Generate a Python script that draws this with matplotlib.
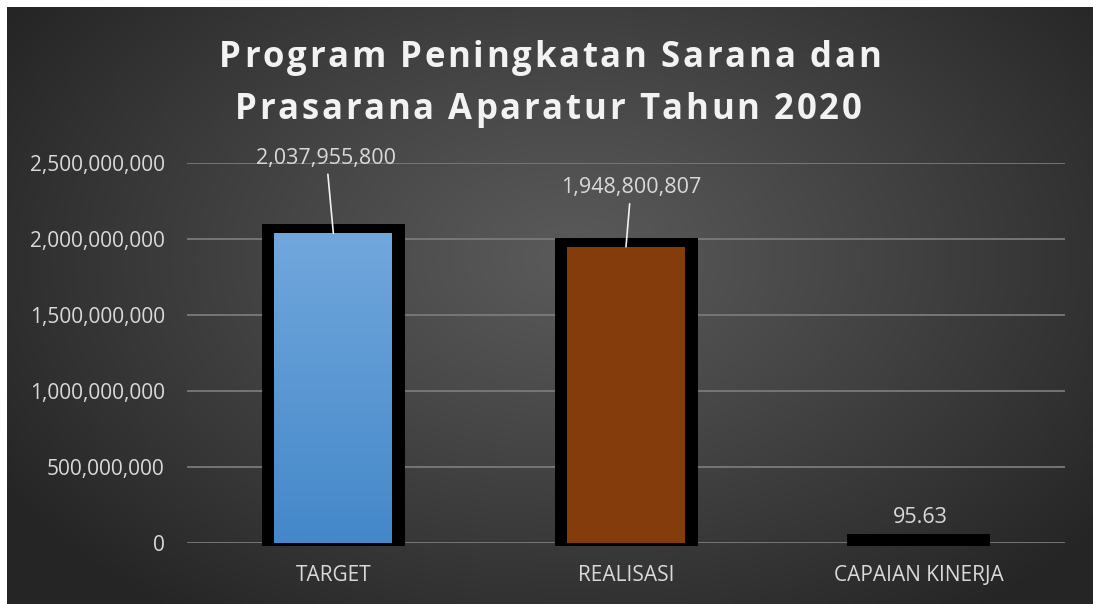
import numpy as np
import matplotlib.pyplot as plt
from matplotlib.ticker import FuncFormatter
from matplotlib.font_manager import FontProperties, findfont, get_font

# Data
kategori = ['TARGET', 'REALISASI', 'CAPAIAN KINERJA']
nilai = [2037955800, 1948800807, 95.63]
label_nilai = ['2,037,955,800', '1,948,800,807', '95.63']
y_ticks = [0, 500_000_000, 1_000_000_000, 1_500_000_000, 2_000_000_000, 2_500_000_000]
judul = ['Program Peningkatan Sarana dan', 'Prasarana Aparatur Tahun 2020']

W, H = 1093, 604
fig = plt.figure(figsize=(W / 100, H / 100), dpi=100)
fig.patch.set_facecolor('white')

# background radial gradient (chart area starts 7px from top/left)
bg = fig.add_axes([7 / W, 0, 1 - 7 / W, 1 - 7 / H], zorder=-5)
gx, gy = np.meshgrid(np.linspace(0, 1, 400), np.linspace(0, 1, 240))
r = np.sqrt(((gx - 0.52) / 0.62) ** 2 + ((gy - 0.42) / 0.75) ** 2)
r = np.clip(r, 0, 1) ** 1.1
c0, c1 = np.array([0x5a, 0x5a, 0x5a]) / 255, np.array([0x25, 0x25, 0x25]) / 255
img = c0[None, None, :] * (1 - r[..., None]) + c1[None, None, :] * r[..., None]
bg.imshow(img, aspect='auto', extent=[0, 1, 1, 0])
bg.axis('off')

ax = fig.add_axes([187 / W, (H - 543) / H, 878 / W, 380 / H])
ax.set_facecolor('none')
for s in ax.spines.values():
    s.set_visible(False)

ax.set_yticks(y_ticks)
ax.yaxis.set_major_formatter(FuncFormatter(lambda v, p: f'{int(v):,}'))
ax.grid(axis='y', color='#7a7a7a', linewidth=1.3, zorder=0)
ax.set_axisbelow(True)
ax.tick_params(axis='y', length=0, pad=16, labelsize=15, labelcolor='#d9d9d9')
ax.tick_params(axis='x', length=0, pad=15.5, labelsize=15, labelcolor='#d9d9d9')
ax.set_xticks(range(len(kategori)))
ax.set_xticklabels(kategori)
for t in ax.get_xticklabels() + ax.get_yticklabels():
    t.set_fontfamily('Open Sans')

# pixel -> data conversion
px_x = 3 / 878
px_y = 2.5e9 / 380
lebar = 118 * px_x
pad_sisi, pad_atas, pad_bawah = 12.5 * px_x, 9 * px_y, 3 * px_y

x = np.arange(len(kategori))
# black frames behind
ax.bar(x, np.array(nilai) + pad_atas + pad_bawah, bottom=-pad_bawah,
       width=lebar + 2 * pad_sisi, color='black', zorder=2, clip_on=False)

# target bar with vertical gradient
grad = np.linspace(0, 1, 256)[:, None]
top_c, bot_c = np.array([0x71, 0xa7, 0xdc]) / 255, np.array([0x44, 0x88, 0xca]) / 255
gimg = top_c * (1 - grad[..., None]) + bot_c * grad[..., None]
ax.imshow(gimg, aspect='auto', extent=[x[0] - lebar / 2, x[0] + lebar / 2, 0, nilai[0]],
          zorder=3)

ax.bar(x[1], nilai[1], width=lebar, color='#843c0c', zorder=3)
ax.set_xlim(-0.5, 2.5)
ax.set_ylim(0, 2.5e9)

# data labels
offsets = [(-5, 54), (3.6, 42.5), (1.5, 18)]
for i in range(len(kategori)):
    arrow = dict(arrowstyle='-', color='#f2f2f2', lw=1.2, shrinkA=2, shrinkB=0) if i < 2 else None
    ax.annotate(label_nilai[i], xy=(x[i], nilai[i]), xytext=offsets[i],
                textcoords='offset points', ha='center', va='center',
                fontsize=15.5, color='#d9d9d9', family='Open Sans', zorder=5,
                arrowprops=arrow)

# title with letter spacing, drawn char by char
fp = FontProperties(family='Open Sans', weight='bold', size=25)
font = get_font(findfont(fp))
font.set_size(25, 100)
spasi = 2.7
for baris, base_y, cx in zip(judul, [67, 119], [550, 548]):
    adv = []
    for ch in baris:
        g = font.load_char(ord(ch))
        adv.append(g.linearHoriAdvance / 65536)
    total = sum(adv) + spasi * (len(baris) - 1)
    pos = cx - total / 2
    for ch, a in zip(baris, adv):
        fig.text(pos / W, 1 - base_y / H, ch, ha='left', va='baseline',
                 fontproperties=fp, color='#f2f2f2')
        pos += a + spasi

fig.savefig('out.png', dpi=100)
